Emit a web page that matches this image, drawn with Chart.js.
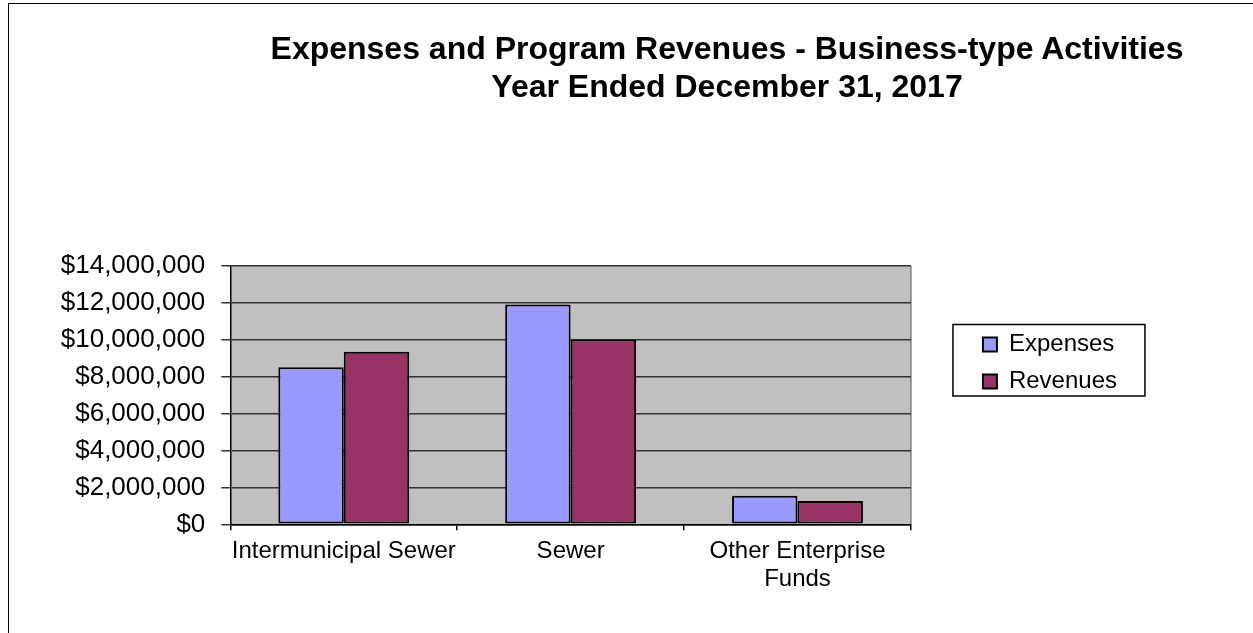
<!DOCTYPE html>
<html>
<head>
<meta charset="utf-8">
<script src="https://cdn.jsdelivr.net/npm/chart.js@4"></script>
<style>
    body { margin: 0; background: #fff; }
    #wrap { position: relative; width: 1253px; height: 633px; overflow: hidden; }
    #frame { position: absolute; left: 8px; top: 3px; width: 1300px; height: 700px;
             border-top: 1.5px solid #000; border-left: 1.5px solid #000; }
    #title { position: absolute; left: 727px; top: 29px; transform: translateX(-50%);
             white-space: nowrap; text-align: center; color: #000;
             font: bold 32px 'Liberation Sans', Arial, sans-serif; line-height: 38px; }
</style>
</head>
<body>
<div id="wrap">
    <div id="frame"></div>
    <canvas id="BarChart" width="1253" height="633"></canvas>
    <div id="title">Expenses and Program Revenues - Business-type Activities<br>Year Ended December 31, 2017</div>
</div>
<script>
// Categorie e valori
const categories = ['Intermunicipal Sewer', 'Sewer', ['Other Enterprise', 'Funds']];
const expenses = [8510000, 11920000, 1550000];
const revenues = [9350000, 10020000, 1270000];
const yTicks = [0, 2000000, 4000000, 6000000, 8000000, 10000000, 12000000, 14000000];

Chart.defaults.font.family = "'Liberation Sans', Arial, sans-serif";
Chart.defaults.color = '#000';

// Sfondo grigio dell'area del grafico
const plotBackground = {
    id: 'plotBackground',
    beforeDraw(chart) {
        const {ctx, chartArea: a} = chart;
        ctx.save();
        ctx.fillStyle = '#C0C0C0';
        ctx.fillRect(a.left, a.top, a.right - a.left, a.bottom - a.top);
        ctx.strokeStyle = '#808080';
        ctx.lineWidth = 1.5;
        ctx.beginPath();
        ctx.moveTo(a.right, a.top);
        ctx.lineTo(a.right, a.bottom);
        ctx.stroke();
        ctx.restore();
    }
};

// Cornice della legenda
const legendFrame = {
    id: 'legendFrame',
    afterDraw(chart) {
        const lg = chart.legend;
        const {ctx} = chart;
        ctx.save();
        ctx.strokeStyle = '#000';
        ctx.lineWidth = 1.5;
        ctx.strokeRect(lg.left - 17, lg.top + 58.5, 192, 71.5);
        ctx.restore();
    }
};

const barData = {
    labels: categories,
    datasets: [{
        label: 'Expenses',
        data: expenses,
        backgroundColor: '#9999FF',
        borderColor: '#000',
        borderWidth: 2,
        borderSkipped: false
    }, {
        label: 'Revenues',
        data: revenues,
        backgroundColor: '#993366',
        borderColor: '#000',
        borderWidth: 2,
        borderSkipped: false
    }]
};

const barOptions = {
    responsive: false,
    animation: false,
    devicePixelRatio: 1,
    barPercentage: 1,
    categoryPercentage: 0.577,
    layout: {
        padding: {top: 266, left: 51, right: 126, bottom: 32}
    },
    plugins: {
        title: {display: false},
        tooltip: {enabled: false},
        legend: {
            position: 'right',
            align: 'start',
            fullSize: false,
            title: {display: true, text: ' ', font: {size: 12}, padding: {top: 39, bottom: 0}},
            labels: {
                boxWidth: 14,
                boxHeight: 14,
                padding: 13,
                font: {size: 24},
                color: '#000'
            }
        }
    },
    scales: {
        x: {
            grid: {display: true, drawOnChartArea: false, drawTicks: true, tickLength: 6, color: '#000', lineWidth: 1.5},
            border: {display: true, color: '#000', width: 1.5},
            ticks: {font: {size: 24, lineHeight: 1.18}, padding: 7, color: '#000', maxRotation: 0, autoSkip: false}
        },
        y: {
            min: 0,
            max: 14000000,
            afterBuildTicks(scale) {
                scale.ticks = yTicks.map(v => ({value: v}));
            },
            grid: {color: '#333', lineWidth: 1.5, tickLength: 9},
            border: {display: true, color: '#000', width: 1.5},
            ticks: {
                font: {size: 26},
                padding: 16,
                color: '#000',
                callback: v => '$' + v.toLocaleString('en-US')
            }
        },
        gap: {
            type: 'linear',
            position: 'right',
            display: true,
            grid: {display: false},
            border: {display: false},
            ticks: {display: false},
            afterFit(scale) { scale.width = 59; }
        }
    }
};

document.addEventListener('DOMContentLoaded', function() {
const barCtx = document.getElementById('BarChart').getContext('2d');
const barChart = new Chart(barCtx, {
    type: 'bar',
    data: barData,
    options: barOptions,
    plugins: [plotBackground, legendFrame]
});
});
</script>
</body>
</html>
